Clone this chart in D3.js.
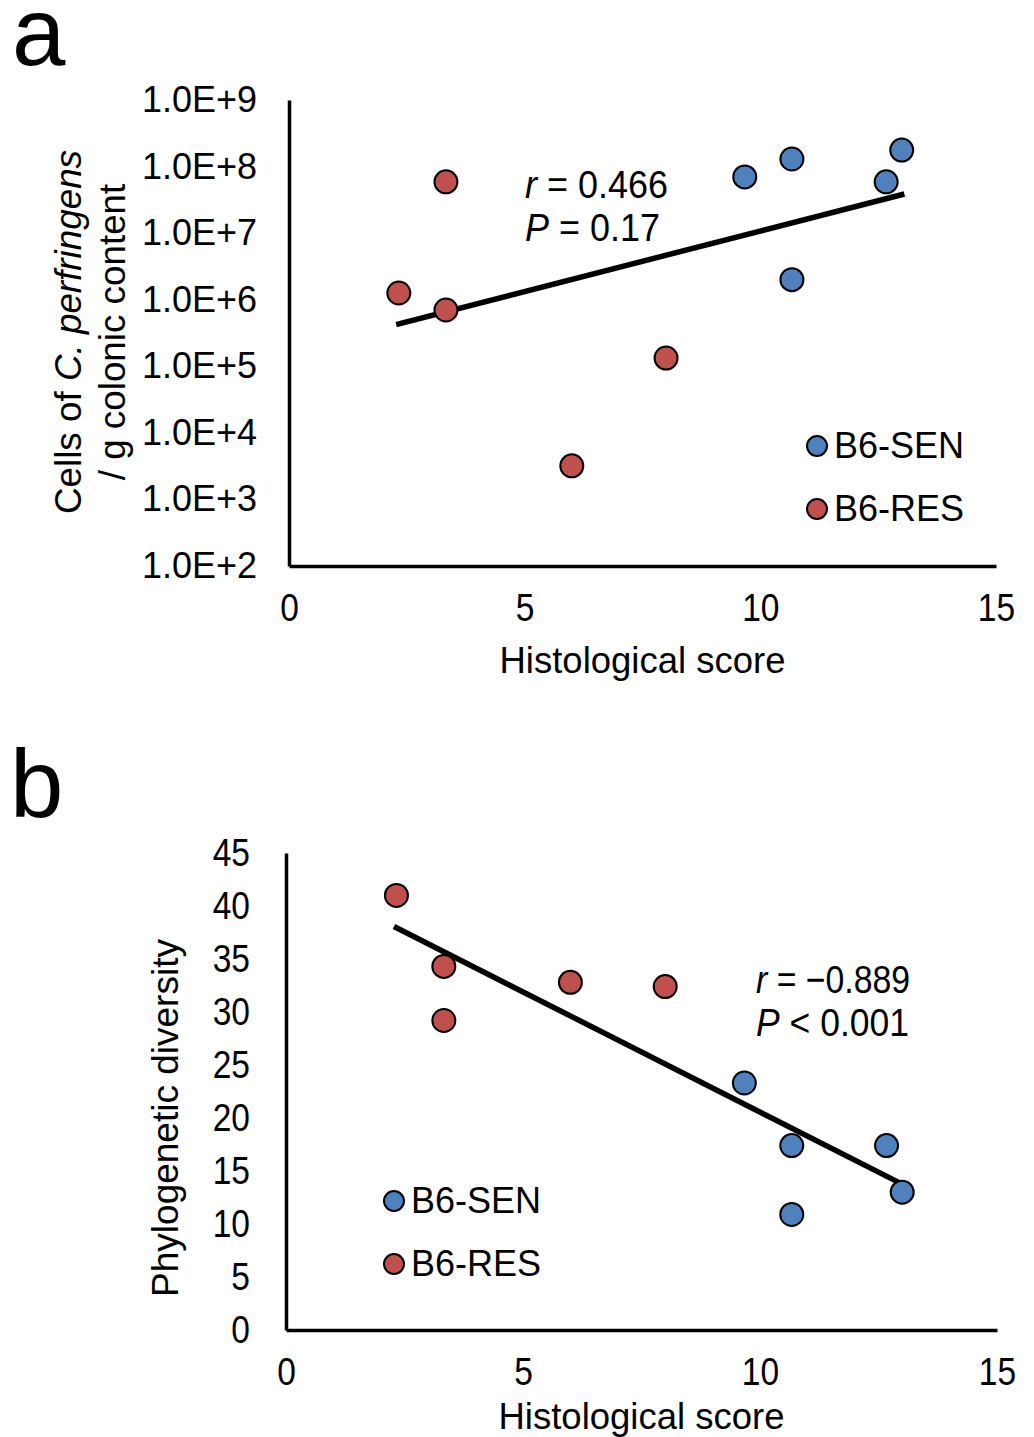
<!DOCTYPE html>
<html><head><meta charset="utf-8">
<script src="https://cdn.jsdelivr.net/npm/d3@7"></script>
<style>
body{margin:0;background:#fff;}
text{font-family:"Liberation Sans",Arial,sans-serif;fill:#000;}
</style></head>
<body><svg id="chart" width="1034" height="1437"></svg>
<script>
// ---- data ----
const groups = ["B6-SEN", "B6-RES"];
const groupColors = ["#4F81BD", "#C0504D"];
// histological scores
const senScore = [9.67, 10.67, 10.67, 12.67, 13.0];
const resScore = [2.33, 3.33, 3.33, 6.0, 8.0];
// panel a: cells of C. perfringens / g colonic content
const senCells = [7.0e7, 1.3e8, 2.0e6, 5.9e7, 1.77e8];
const resCells = [1.26e6, 5.9e7, 7.0e5, 3.2e3, 1.33e5];
// panel b: phylogenetic diversity
const senPD = [23.3, 17.4, 10.9, 17.4, 13.0];
const resPD = [41.0, 34.3, 29.2, 32.8, 32.4];
const xTicks = [0, 5, 10, 15];
const yTicksA = [1e2, 1e3, 1e4, 1e5, 1e6, 1e7, 1e8, 1e9];
const yTicksB = [0, 5, 10, 15, 20, 25, 30, 35, 40, 45];
const statsA = {r: " = 0.466", p: " = 0.17"};
const statsB = {r: " = \u22120.889", p: " < 0.001"};

const NARROW = 0.86;
const svg = d3.select("#chart");
svg.append("rect").attr("width",1034).attr("height",1437).attr("fill","#fff");

function regress(xs, ys){
  const n = xs.length, mx = d3.mean(xs), my = d3.mean(ys);
  let sxy=0, sxx=0;
  for(let i=0;i<n;i++){sxy+=(xs[i]-mx)*(ys[i]-my); sxx+=(xs[i]-mx)**2;}
  const b = sxy/sxx; return {b, a: my-b*mx};
}

function panel(opts){
  const g = svg.append("g");
  const x = d3.scaleLinear().domain([0,15]).range([opts.left, opts.right]);
  const y = opts.log ? d3.scaleLog().domain([1e2,1e9]).range([opts.bottom, opts.top])
                     : d3.scaleLinear().domain([0,45]).range([opts.bottom, opts.top]);
  // axes
  const xa = g.append("g").attr("transform",`translate(0,${opts.bottom})`)
    .call(d3.axisBottom(x).tickValues(xTicks).tickSize(0).tickPadding(opts.xPad).tickFormat(d3.format("d")));
  xa.selectAll("text").style("font-size","39px").attr("transform",`scale(${NARROW},1)`);
  const ya = g.append("g").attr("transform",`translate(${opts.left},0)`)
    .call(d3.axisLeft(y).tickValues(opts.yTicks).tickSize(0).tickPadding(opts.yPad).tickFormat(opts.yFmt));
  if(opts.log){
    ya.selectAll("text").style("font-size","36px");
  } else {
    ya.selectAll("text").style("font-size","39px")
      .attr("x",-opts.yPad/NARROW).attr("transform",`scale(${NARROW},1)`);
  }
  [xa,ya].forEach(a=>a.select(".domain").attr("stroke","#000").attr("stroke-width",3.5));

  // regression line
  const xs = resScore.concat(senScore);
  const ys = (opts.log ? resCells.concat(senCells).map(Math.log10) : resPD.concat(senPD));
  const {a,b} = regress(xs, ys);
  const x0 = d3.min(xs), x1 = d3.max(xs);
  const f = v => opts.log ? Math.pow(10, a+b*v) : a+b*v;
  g.append("line").attr("x1",x(x0)).attr("y1",y(f(x0))).attr("x2",x(x1)).attr("y2",y(f(x1)))
    .attr("stroke","#000").attr("stroke-width",5.5).attr("stroke-linecap","square");

  // points
  const sets = [[senScore, opts.log?senCells:senPD, 0],[resScore, opts.log?resCells:resPD, 1]];
  sets.forEach(([sx, sy, gi])=>{
    g.selectAll(null).data(sx.map((v,i)=>[v,sy[i]])).enter().append("circle")
      .attr("cx",d=>x(d[0])).attr("cy",d=>y(d[1])).attr("r",11.5)
      .attr("fill",groupColors[gi]).attr("stroke","#000").attr("stroke-width",2);
  });

  // legend
  groups.forEach((name,i)=>{
    const ly = opts.legY + i*63;
    g.append("circle").attr("cx",opts.legX).attr("cy",ly).attr("r",10)
      .attr("fill",groupColors[i]).attr("stroke","#000").attr("stroke-width",2);
    g.append("text").attr("x",opts.legX+17).attr("y",ly+12).style("font-size","36px").text(name);
  });

  // stats annotation (condensed numbers, fitted widths)
  const t1 = g.append("text").attr("x",opts.statX).attr("y",opts.statY).style("font-size","39px")
    .attr("textLength",opts.statW[0]).attr("lengthAdjust","spacingAndGlyphs");
  t1.append("tspan").style("font-style","italic").text("r");
  t1.append("tspan").text(opts.stats.r);
  const t2 = g.append("text").attr("x",opts.statX).attr("y",opts.statY+43).style("font-size","39px")
    .attr("textLength",opts.statW[1]).attr("lengthAdjust","spacingAndGlyphs");
  t2.append("tspan").style("font-style","italic").text("P");
  t2.append("tspan").text(opts.stats.p);

  // axis titles
  g.append("text").attr("x",(opts.left+opts.right)/2).attr("y",opts.bottom+opts.xTitleDy)
    .attr("text-anchor","middle").style("font-size","36.5px").text("Histological score");
  opts.yTitle(g);

  // panel letter
  g.append("text").attr("x",opts.letterX).attr("y",opts.letterY).style("font-size","96px").text(opts.letter);
}

panel({
  log:true, left:289, right:996, top:100, bottom:566, xPad:27, yPad:32,
  yTicks:yTicksA, yFmt:d=>"1.0E+"+Math.round(Math.log10(d)),
  legX:817, legY:446, statX:525, statY:198, statW:[143,135], stats:statsA, xTitleDy:107,
  letter:"a", letterX:12, letterY:65,
  yTitle:g=>{
    const t = g.append("text").attr("transform","translate(81,332) rotate(-90)").attr("text-anchor","middle").style("font-size","36.8px");
    t.append("tspan").text("Cells of ");
    t.append("tspan").style("font-style","italic").text("C. perfringens");
    g.append("text").attr("transform","translate(125,332) rotate(-90)").attr("text-anchor","middle").style("font-size","36.8px").text("/ g colonic content");
  }
});

panel({
  log:false, left:286, right:997, top:853, bottom:1330, xPad:27, yPad:36,
  yTicks:yTicksB, yFmt:d3.format("d"),
  legX:394, legY:1201, statX:756, statY:993, statW:[154,153], stats:statsB, xTitleDy:99,
  letter:"b", letterX:10, letterY:817,
  yTitle:g=>{
    g.append("text").attr("transform","translate(178,1118) rotate(-90)").attr("text-anchor","middle").style("font-size","37px").text("Phylogenetic diversity");
  }
});
</script></body></html>
